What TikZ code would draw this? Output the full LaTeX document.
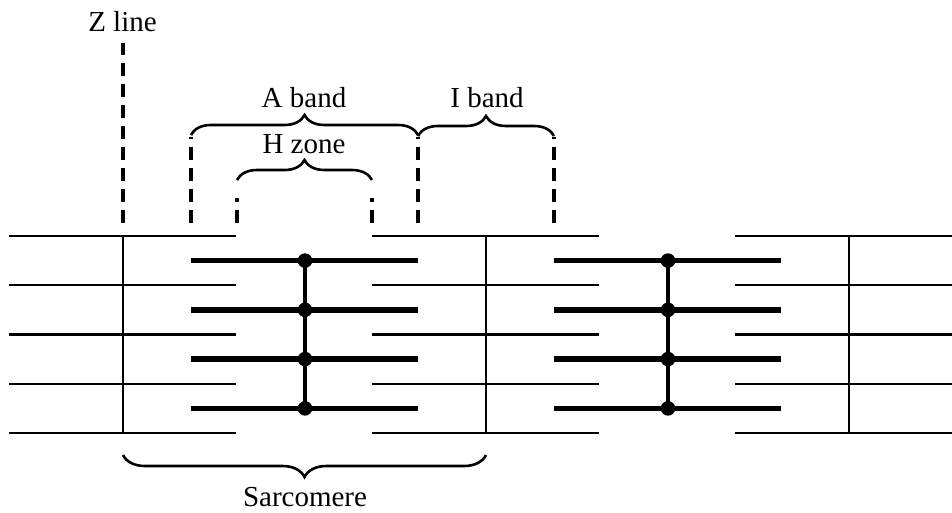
\documentclass[tikz,border=0pt]{standalone}
\usepackage{fontspec}
\setmainfont{Liberation Serif}
\usetikzlibrary{decorations.pathreplacing}
\begin{document}
\begin{tikzpicture}[x=1pt,y=-1pt,
  thin filament/.style={line width=2.3pt},
  thick filament/.style={line width=5.5pt},
  mline/.style={line width=4.5pt},
  zline/.style={line width=2.3pt},
  guide/.style={line width=3.3pt,dash pattern=on 13pt off 8pt},
  bracestyle/.style={line width=2.6pt,decorate,decoration={brace,amplitude=#1}},
  lbl/.style={anchor=base,inner sep=0pt,font=\fontsize{29}{34}\selectfont}]
\useasboundingbox (0,0) rectangle (952,512);
% thin filaments
\foreach \k in {0,...,4}{
  \pgfmathsetmacro{\yy}{236+49.25*\k}
  \draw[thin filament] (9,\yy) -- (236,\yy);
  \draw[thin filament] (372,\yy) -- (599,\yy);
  \draw[thin filament] (735,\yy) -- (952,\yy);
}
% Z lines
\foreach \x in {123,486,849}{
  \draw[zline] (\x,236) -- (\x,433);
}
% thick filaments
\foreach \m in {0,363}{
  \foreach \k in {0,...,3}{
    \pgfmathsetmacro{\yy}{260.6+49.25*\k}
    \draw[thick filament] (191+\m,\yy) -- (418+\m,\yy);
    \fill (305+\m,\yy) circle (7.3pt);
  }
  \draw[mline] (305+\m,260.6) -- (305+\m,408.35);
}
% dashed guides
\coordinate (z0) at (123,223); \coordinate (z1) at (123,43);
\draw[guide] (z0) -- (z1);
\foreach \x/\t in {191/137,418/137,554/137,237/198,372/198}{
  \draw[guide] (\x,223) -- (\x,\t);
}
% braces
\draw[bracestyle=20pt] (191,135) -- (418,135);
\draw[bracestyle=20pt] (418,136) -- (554,136);
\draw[bracestyle=20pt] (237,180) -- (372,180);
\draw[bracestyle=22pt] (486,455) -- (123,455);
% labels
\node[lbl] (zl) at (122.5,31) {Z line};
\node[lbl] (ab) at (304,107) {A band};
\node[lbl] (ib) at (487,107) {I band};
\node[lbl] (hz) at (304,153) {H zone};
\node[lbl] (sc) at (305,506) {Sarcomere};
\end{tikzpicture}
\end{document}
